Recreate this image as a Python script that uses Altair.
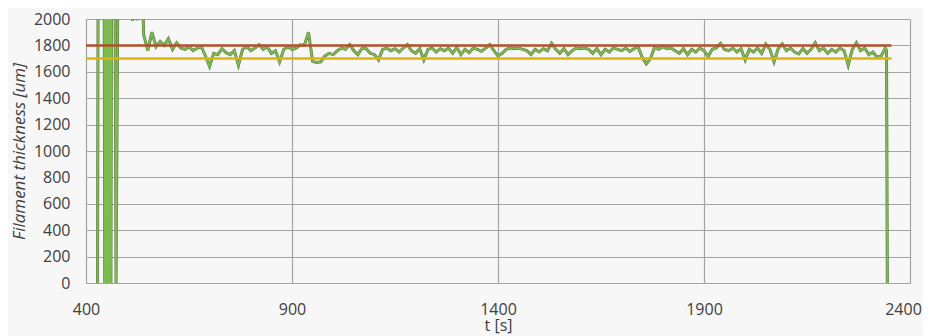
import altair as alt
import pandas as pd

# ---- data ----
# start-up oscillation (values above 2000 are clipped off the plot)
t_start = [428, 429.5, 444, 445.5, 447, 448.5, 450, 451.5, 453, 454.5, 456, 457.5, 459, 460.5,
           462, 470, 473, 478, 505, 513, 516, 520, 524, 527, 536]
v_start = [0, 2600, 2600, 0, 2600, 0, 2600, 0, 2600, 0, 2600, 0, 2600, 0,
           2600, 2600, 0, 2600, 2300, 1985, 2300, 2300, 1990, 2300, 2300]

# steady extrusion, every 10 s from 540 s to 2340 s
t_main = list(range(540, 2341, 10))
v_main = [
    1880, 1760, 1900, 1790, 1830, 1800, 1850, 1770, 1820, 1780,   # 540-630
    1770, 1790, 1760, 1780, 1790, 1720, 1640, 1740, 1730, 1775,   # 640-730
    1745, 1730, 1760, 1650, 1770, 1790, 1760, 1780, 1805, 1770,   # 740-830
    1790, 1740, 1760, 1675, 1770, 1790, 1770, 1780, 1805, 1800,   # 840-930
    1900, 1680, 1670, 1675, 1720, 1740, 1730, 1760, 1780, 1770,   # 940-1030
    1805, 1760, 1730, 1780, 1775, 1740, 1730, 1690, 1770, 1780,   # 1040-1130
    1760, 1775, 1750, 1780, 1805, 1760, 1740, 1775, 1690, 1770,   # 1140-1230
    1780, 1750, 1775, 1760, 1780, 1740, 1785, 1730, 1770, 1745,   # 1240-1330
    1780, 1770, 1755, 1780, 1805, 1760, 1720, 1740, 1770, 1780,   # 1340-1430
    1775, 1780, 1770, 1760, 1730, 1770, 1750, 1775, 1760, 1815,   # 1440-1530
    1770, 1740, 1775, 1730, 1760, 1780, 1775, 1780, 1770, 1740,   # 1540-1630
    1775, 1730, 1770, 1750, 1780, 1770, 1760, 1780, 1755, 1775,   # 1640-1730
    1790, 1710, 1660, 1700, 1785, 1770, 1790, 1775, 1780, 1760,   # 1740-1830
    1740, 1775, 1730, 1770, 1750, 1780, 1760, 1715, 1770, 1780,   # 1840-1930
    1815, 1770, 1760, 1780, 1750, 1775, 1690, 1770, 1750, 1780,   # 1940-2030
    1740, 1810, 1770, 1675, 1775, 1810, 1760, 1780, 1750, 1735,   # 2040-2130
    1775, 1740, 1770, 1820, 1760, 1780, 1740, 1770, 1750, 1780,   # 2140-2230
    1760, 1650, 1770, 1820, 1760, 1780, 1730, 1750, 1710, 1720,   # 2240-2330
    1780,                                                         # 2340
]
t_end = [2343, 2345]
v_end = [1760, 0]

# limit lines
limit_t = [400, 2355]
upper_limit = [1800, 1800]
lower_limit = [1700, 1700]

x_ticks = [400, 900, 1400, 1900, 2400]
y_ticks = [0, 200, 400, 600, 800, 1000, 1200, 1400, 1600, 1800, 2000]

# ---- tables ----
data = pd.DataFrame({"t": t_start + t_main + t_end, "v": v_start + v_main + v_end})
upper = pd.DataFrame({"t": limit_t, "v": upper_limit})
lower = pd.DataFrame({"t": limit_t, "v": lower_limit})

FONT = "Open Sans"
x_enc = alt.X("t:Q", scale=alt.Scale(domain=[400, 2400], nice=False, zero=False),
              axis=alt.Axis(values=x_ticks, title="t [s]", labelPadding=18, titlePadding=0,
                            ticks=False, domain=False, format="d", labelFlush=False,
                            labelOffset={"condition": {"test": "datum.value == 2400", "value": -7},
                                         "value": 0}))
y_enc = alt.Y("v:Q", scale=alt.Scale(domain=[0, 2000], nice=False),
              axis=alt.Axis(values=y_ticks, title="Filament thickness [um]",
                            titleFontStyle="italic", titleFontSize=17, labelPadding=16,
                            titlePadding=5, ticks=False, domain=False, format="d",
                            labelFlush=False))

base = alt.Chart(data)
green_edge = base.mark_line(clip=True, color="#5f7a48", strokeWidth=3.0).encode(x=x_enc, y=y_enc, order="t:Q")
green = base.mark_line(clip=True, color="#7cbb4e", strokeWidth=1.8).encode(x=x_enc, y=y_enc, order="t:Q")
red = alt.Chart(upper).mark_line(clip=True, color="#b0512a", strokeWidth=2.5).encode(x=x_enc, y=y_enc)
yellow = alt.Chart(lower).mark_line(clip=True, color="#e2b20c", strokeWidth=2.5).encode(x=x_enc, y=y_enc)

chart = (
    alt.layer(green_edge, green, red, yellow)
    .properties(width=824, height=264, background="#f7f7f7",
                autosize=alt.AutoSizeParams(type="none"),
                padding={"left": 78, "top": 11, "right": 13, "bottom": 53})
    .configure_view(stroke=None)
    .configure_axis(gridColor="#a3a3a3", gridWidth=1.2, labelFont=FONT, titleFont=FONT,
                    labelFontSize=16, titleFontSize=16, labelColor="#404040",
                    titleColor="#404040", titleFontWeight="normal")
)

chart.save("out.html", embed_options={"renderer": "svg", "actions": False})
